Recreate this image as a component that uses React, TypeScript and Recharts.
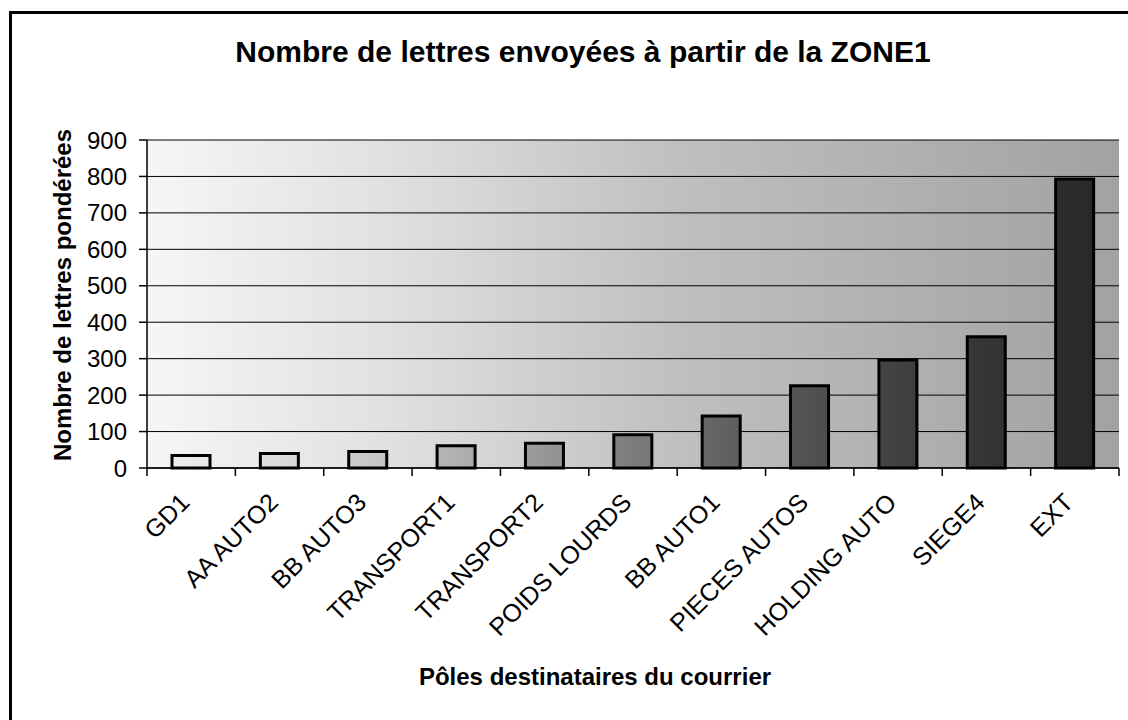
import React from 'react';
import { BarChart, Bar, XAxis, YAxis, CartesianGrid, Label } from 'recharts';

const categories = ['GD1', 'AA AUTO2', 'BB AUTO3', 'TRANSPORT1', 'TRANSPORT2', 'POIDS LOURDS', 'BB AUTO1', 'PIECES AUTOS', 'HOLDING AUTO', 'SIEGE4', 'EXT'];
const lettres = [34, 40, 45, 61, 68, 91, 143, 226, 296, 360, 793];
const yTicks = [0, 100, 200, 300, 400, 500, 600, 700, 800, 900];

const data = categories.map((c, i) => ({ name: c, value: lettres[i] }));

const FONT = '"Liberation Sans", Arial, sans-serif';
const PLOT_LEFT = 147;
const PLOT_RIGHT = 1119;
const BAND = (PLOT_RIGHT - PLOT_LEFT) / categories.length;

const XTick = (props: any) => {
  const { x, y, payload, index } = props;
  const last = index === categories.length - 1;
  return (
    <g>
      <line x1={x - BAND / 2} y1={y} x2={x - BAND / 2} y2={y + 8} stroke="#000" strokeWidth={1.5} />
      {last && <line x1={x + BAND / 2} y1={y} x2={x + BAND / 2} y2={y + 8} stroke="#000" strokeWidth={1.5} />}
      <text
        transform={`translate(${x},${y + 36}) rotate(-45)`}
        textAnchor="end"
        fontSize={25}
        fontFamily={FONT}
        fill="#000"
      >
        {payload.value}
      </text>
    </g>
  );
};

export default function App() {
  return (
    <div style={{ position: 'absolute', left: 0, top: 0, width: 1128, height: 720, overflow: 'hidden', background: '#fff', fontFamily: FONT }}>
      <div style={{ position: 'absolute', left: 9, top: 11, width: 1150, height: 760, border: '3px solid #000', boxSizing: 'border-box' }} />
      <div style={{ position: 'absolute', left: 0, top: 34, width: 1166, textAlign: 'center', fontSize: 30, lineHeight: '36px', fontWeight: 'bold', color: '#000' }}>
        Nombre de lettres envoyées à partir de la ZONE1
      </div>
      <div style={{ position: 'absolute', left: 0, top: 0 }}>
        <BarChart width={1128} height={720} data={data} margin={{ top: 140, right: 1128 - PLOT_RIGHT, bottom: 0, left: 0 }}>
          <defs>
            <linearGradient id="bgGrad" gradientUnits="userSpaceOnUse" x1={PLOT_LEFT} y1="0" x2={PLOT_RIGHT} y2="0">
              <stop offset="0%" stopColor="#f6f6f6" />
              <stop offset="25%" stopColor="#e0e0e0" />
              <stop offset="55%" stopColor="#bfbfbf" />
              <stop offset="100%" stopColor="#a2a2a2" />
            </linearGradient>
            <linearGradient id="barGrad" gradientUnits="userSpaceOnUse" x1={PLOT_LEFT} y1="0" x2={PLOT_RIGHT} y2="0">
              <stop offset="0%" stopColor="#f2f2f2" />
              <stop offset="20%" stopColor="#d0d0d0" />
              <stop offset="40%" stopColor="#9a9a9a" />
              <stop offset="60%" stopColor="#606060" />
              <stop offset="80%" stopColor="#3c3c3c" />
              <stop offset="100%" stopColor="#262626" />
            </linearGradient>
          </defs>
          <CartesianGrid vertical={false} stroke="#000" strokeWidth={1} fill="url(#bgGrad)" fillOpacity={1} />
          <XAxis
            dataKey="name"
            type="category"
            height={252}
            axisLine={{ stroke: '#000', strokeWidth: 1.5 }}
            tickLine={false}
            tickSize={0}
            tickMargin={0}
            interval={0}
            tick={<XTick />}
          >
            <Label
              content={() => (
                <text x={595} y={685} textAnchor="middle" fontSize={24} fontWeight="bold" fontFamily={FONT} fill="#000">
                  Pôles destinataires du courrier
                </text>
              )}
            />
          </XAxis>
          <YAxis
            type="number"
            domain={[0, 900]}
            ticks={yTicks}
            width={PLOT_LEFT}
            axisLine={{ stroke: '#000', strokeWidth: 1.5 }}
            tickLine={{ stroke: '#000', strokeWidth: 1.5 }}
            tickSize={8}
            tickMargin={12}
            tick={{ fontSize: 24, fill: '#000', fontFamily: FONT }}
            interval={0}
          >
            <Label
              content={() => (
                <text
                  x={62}
                  y={295}
                  transform="rotate(-90, 62, 295)"
                  textAnchor="middle"
                  dominantBaseline="central"
                  fontSize={24}
                  fontWeight="bold"
                  fontFamily={FONT}
                  fill="#000"
                >
                  Nombre de lettres pondérées
                </text>
              )}
            />
          </YAxis>
          <Bar dataKey="value" barSize={38} fill="url(#barGrad)" stroke="#000" strokeWidth={3} isAnimationActive={false} />
        </BarChart>
      </div>
    </div>
  );
}
